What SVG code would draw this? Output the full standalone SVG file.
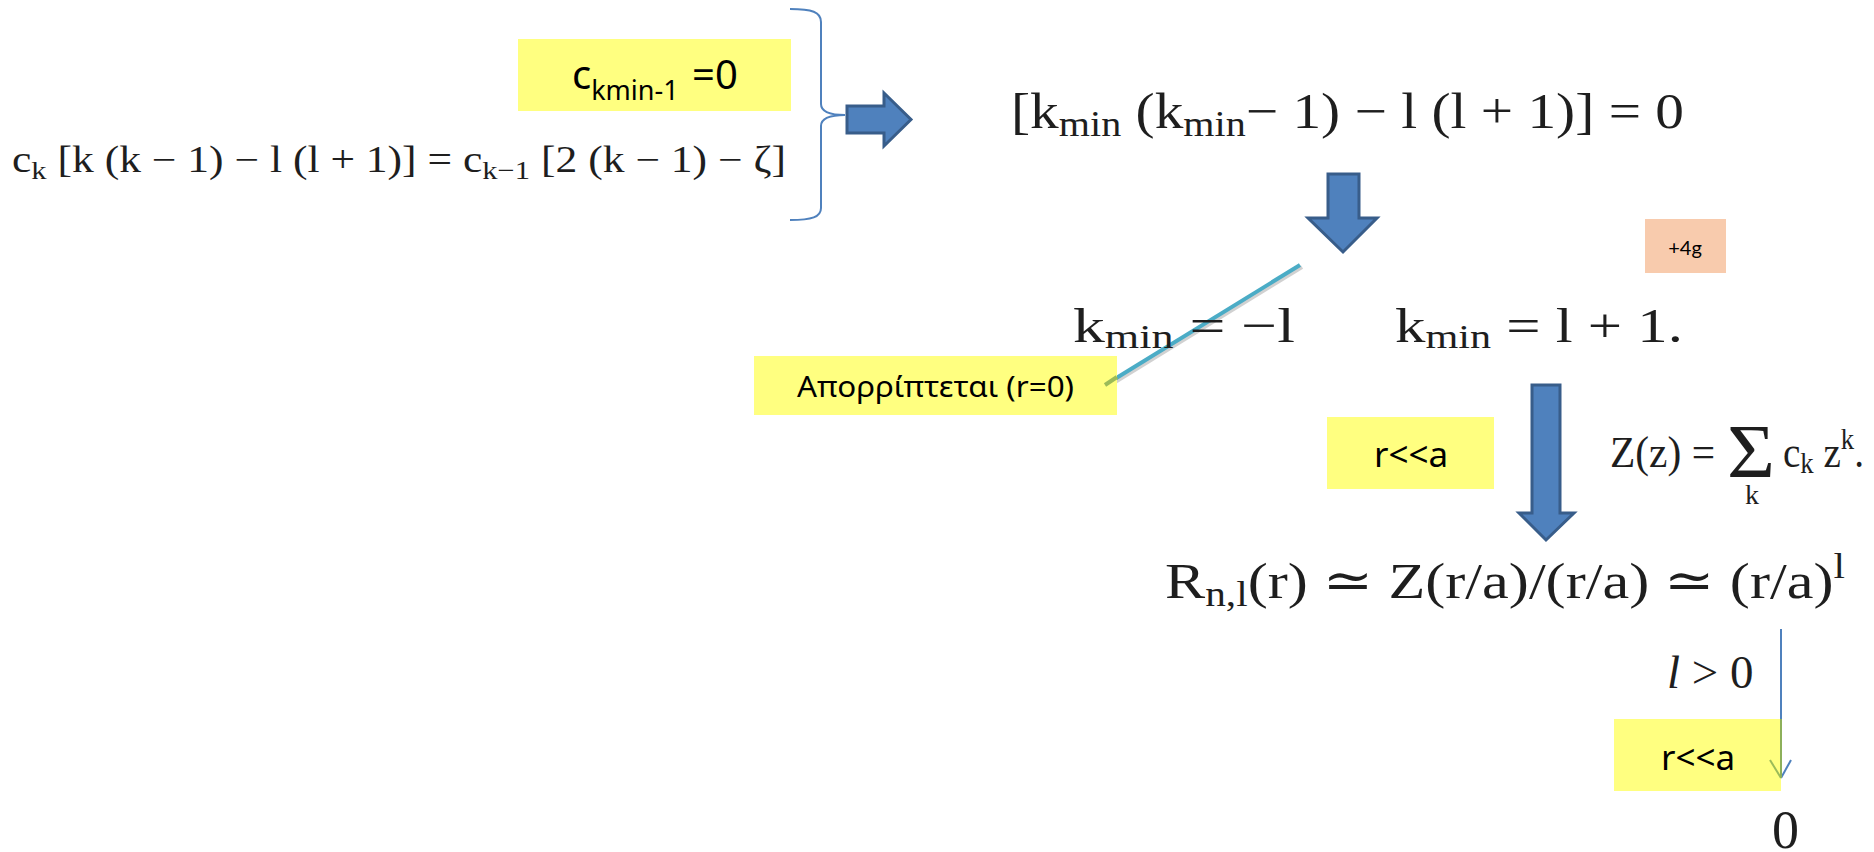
<svg xmlns="http://www.w3.org/2000/svg" width="1874" height="852" viewBox="0 0 1874 852">
<style>
.m{font-family:"Liberation Serif","DejaVu Serif",serif;fill:#1e1e1e}
.h{font-family:"Noto Sans","DejaVu Sans",sans-serif;fill:#000}
.y{fill:#FFFF80}
.blk{fill:#4F81BD;stroke:#385D8A;stroke-width:3;stroke-linejoin:miter}
</style>
<rect width="1874" height="852" fill="#fff"/>
<g id="connectors">
  <path id="brace" d="M790 9 C812 9 821 12 821 22 L821 104 C821 112 830 115 845 115 C830 115 821 118 821 126 L821 208 C821 217 812 220 790 220" fill="none" stroke="#4F81BD" stroke-width="2"/>
  <polygon id="arrow-right" class="blk" points="847,106 884,106 884,93 911,119.5 884,146 884,133 847,133"/>
  <polygon id="arrow-down-1" class="blk" points="1328,174 1359,174 1359,218 1377,218 1343,252 1308,218 1328,218"/>
  <polygon id="arrow-down-2" class="blk" points="1532,385 1560,385 1560,513 1574,513 1546,540 1519,513 1532,513"/>
  <line x1="1302" y1="267" x2="1107" y2="387" stroke="#999" stroke-opacity="0.45" stroke-width="4"/>
  <line id="reject-line" x1="1300" y1="265" x2="1105" y2="385" stroke="#4BACC6" stroke-width="4"/>
  <line x1="1781" y1="629" x2="1781" y2="778" stroke="#4F81BD" stroke-width="2"/>
  <polyline points="1791,760 1781,778" fill="none" stroke="#4F81BD" stroke-width="2"/>
</g>
<g id="node-ckmin">
  <rect class="y" x="518" y="39" width="273" height="72"/>
  <text class="h" x="572" y="89" font-size="40">c<tspan font-size="27" dy="11">kmin-1</tspan><tspan x="692" dy="-11">=0</tspan></text>
</g>
<g id="node-recurrence">
  <text class="m" x="12" y="172" font-size="37" textLength="774" lengthAdjust="spacingAndGlyphs">c<tspan font-size="26" dy="7">k</tspan><tspan dy="-7"> [k (k − 1) − l (l + 1)] = c</tspan><tspan font-size="26" dy="7">k−1</tspan><tspan dy="-7"> [2 (k − 1) − ζ]</tspan></text>
</g>
<g id="node-indicial">
  <text class="m" x="1011" y="128" font-size="50" textLength="673" lengthAdjust="spacingAndGlyphs">[k<tspan font-size="35" dy="8">min</tspan><tspan dy="-8"> (k</tspan><tspan font-size="35" dy="8">min</tspan><tspan dy="-8">− 1) − l (l + 1)] = 0</tspan></text>
</g>
<g id="node-4g">
  <rect x="1645" y="219" width="81" height="54" fill="#F8CBAD"/>
  <text x="1685" y="255" font-size="20" text-anchor="middle" font-family="Lato,'Open Sans',sans-serif" fill="#000">+4g</text>
</g>
<g id="node-kmin-neg">
  <text class="m" x="1073" y="342" font-size="49" textLength="222" lengthAdjust="spacingAndGlyphs">k<tspan font-size="34" dy="6">min</tspan><tspan dy="-6"> = −l</tspan></text>
</g>
<g id="node-kmin-pos">
  <text class="m" x="1395" y="342" font-size="49" textLength="288" lengthAdjust="spacingAndGlyphs">k<tspan font-size="34" dy="6">min</tspan><tspan dy="-6"> = l + 1.</tspan></text>
</g>
<g id="node-reject">
  <rect class="y" x="754" y="356" width="363" height="59"/>
  <line x1="1117" y1="377" x2="1105" y2="385" stroke="#9BBB59" stroke-width="4"/>
  <text class="h" x="797" y="397" font-size="29" textLength="277" lengthAdjust="spacingAndGlyphs">Απορρίπτεται (r=0)</text>
</g>
<g id="node-rlla-1">
  <rect class="y" x="1327" y="417" width="167" height="72"/>
  <text class="h" x="1411" y="467" font-size="35" text-anchor="middle">r&lt;&lt;a</text>
</g>
<g id="node-Z">
  <text class="m" x="1610" y="467" font-size="44" textLength="105" lengthAdjust="spacingAndGlyphs">Z(z) =</text>
  <text class="m" x="1727" y="477" font-size="76" textLength="48" lengthAdjust="spacingAndGlyphs">Σ</text>
  <text class="m" x="1752" y="504" font-size="28" text-anchor="middle">k</text>
  <text class="m" x="1783" y="467" font-size="44" textLength="81" lengthAdjust="spacingAndGlyphs">c<tspan font-size="30" dy="6">k</tspan><tspan dy="-6"> z</tspan><tspan font-size="30" dy="-18">k</tspan><tspan dy="18">.</tspan></text>
</g>
<g id="node-R">
  <text class="m" x="1165" y="598" font-size="51" textLength="680" lengthAdjust="spacingAndGlyphs">R<tspan font-size="35" dy="8">n,l</tspan><tspan dy="-8">(r) ≃ Z(r/a)/(r/a) ≃ (r/a)</tspan><tspan font-size="35" dy="-20">l</tspan></text>
</g>
<g id="node-lgt0">
  <text class="m" x="1667" y="688" font-size="47"><tspan font-style="italic">l</tspan> &gt; 0</text>
</g>
<g id="node-rlla-2">
  <rect class="y" x="1614" y="719" width="167" height="72"/>
  <line x1="1770" y1="760" x2="1781" y2="778" stroke="#9BBB59" stroke-width="2"/>
  <line x1="1781" y1="719" x2="1781" y2="778" stroke="#8DB05A" stroke-width="2"/>
  <text class="h" x="1698" y="770" font-size="35" text-anchor="middle">r&lt;&lt;a</text>
</g>
<g id="node-zero">
  <text class="m" x="1772" y="848" font-size="54">0</text>
</g>
</svg>
